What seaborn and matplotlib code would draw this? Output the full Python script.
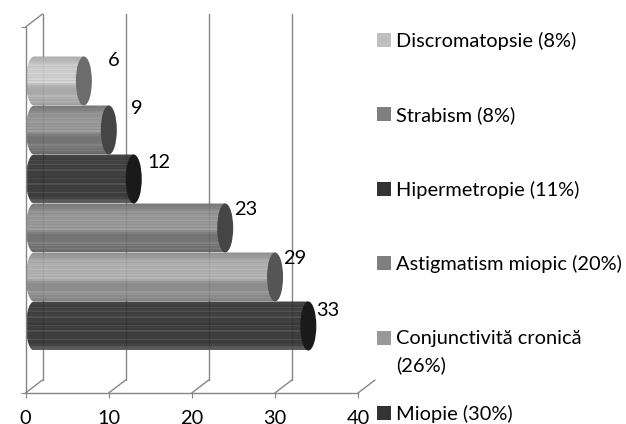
import matplotlib
matplotlib.use('Agg')
import matplotlib.pyplot as plt
from matplotlib.patches import Ellipse, Polygon, Rectangle
import numpy as np
import pandas as pd
import seaborn as sns

categories = ['Discromatopsie', 'Strabism', 'Hipermetropie', 'Astigmatism miopic',
              'Conjunctivită cronică', 'Miopie']
values     = [6, 9, 12, 23, 29, 33]
legend_txt = ['Discromatopsie (8%)', 'Strabism (8%)', 'Hipermetropie (11%)',
              'Astigmatism miopic (20%)', 'Conjunctivită cronică\n(26%)', 'Miopie (30%)']
body_col   = ['#b9b9b9', '#7f7f7f', '#2f2f2f', '#7f7f7f', '#999999', '#2f2f2f']
cap_col    = ['#6c6c6c', '#454545', '#1a1a1a', '#454545', '#555555', '#1a1a1a']
key_col    = ['#bfbfbf', '#7f7f7f', '#333333', '#7f7f7f', '#999999', '#333333']
x_ticks    = [0, 10, 20, 30, 40]

# brightness offsets down one cylinder, top to bottom, with the light streaks
shade = [-.06, -.05, -.03, -.02, .01, .02, .05, .03, .05, .08, .04, .06, .09, .05, .07,
         .04, .08, .03, .09, .02, .01, -.04, -.07, -.08, -.08, -.08, -.08, -.07, -.03, -.08,
         -.04, -.09, -.05, -.10, -.12]
shade_dark = [.04, .03, .02, .00, .06, .00, .02, .08, .00, .03, .00, .07, .01, .00, .02,
              .00, -.01, .05, .00, -.01, .00, .07, -.01, .00, -.01, .00, .00, .08, .00, -.01,
              .01, .03, .10, .12, .14]

GRID = '#868686'
W, H = 626, 424
X0, X1, YB, YT = 25.5, 358.0, 393.0, 27.0   # axes box in pixels
ROW = 49.0                                  # pixels per category
CY0 = 81.0                                  # pixel centre of first cylinder

sns.set_theme(style='white')
plt.rcParams['font.family'] = ['Lato', 'DejaVu Sans']

df = pd.DataFrame({'cat': categories, 'val': values})

fig = plt.figure(figsize=(W / 100, H / 100), dpi=100)
ax = fig.add_axes([X0 / W, 1 - YB / H, (X1 - X0) / W, (YB - YT) / H])
sns.barplot(data=df, y='cat', x='val', hue='cat', palette=body_col, orient='h',
            width=1.0, legend=False, dodge=False, ax=ax)

xlim = (0, 40)
ylim = ((YB - CY0) / ROW, (YT - CY0) / ROW)
px_x = (X1 - X0) / 40.0
dx_back, dy_back = 17 / px_x, 13 / ROW      # depth of the fake 3d box
dx_mid = 8.5 / px_x
cap_w = 16 / px_x

# back wall and floor
for t in x_ticks:
    if t < 40:
        ax.plot([t + dx_back, t + dx_back], [ylim[0] - dy_back, ylim[1] - dy_back],
                color=GRID, lw=1, zorder=1, clip_on=False)
    ax.plot([t, t + dx_back], [ylim[0], ylim[0] - dy_back], color=GRID, lw=1, zorder=1, clip_on=False)
ax.plot([0, dx_back], [ylim[1], ylim[1] - dy_back], color=GRID, lw=1, zorder=1, clip_on=False)

# cylinders drawn over the bars seaborn placed
bars = [c[0] for c in ax.containers]
for bar, body, cap in zip(bars, body_col, cap_col):
    val = bar.get_width()
    top, bot = bar.get_y(), bar.get_y() + bar.get_height()
    mid = (top + bot) / 2
    left, right = bar.get_x() + dx_mid, val + dx_mid
    th = np.linspace(np.pi / 2, 3 * np.pi / 2, 40)
    pts = np.column_stack([left + cap_w / 2 * np.cos(th), mid - (bot - top) / 2 * np.sin(th)])
    pts = np.vstack([pts, [[right, bot], [right, top]]])
    bar.set_visible(False)

    base = int(body[1:3], 16) / 255
    profile = np.array(shade) * 1.1 if base > 0.3 else np.array(shade_dark)
    rows = np.clip(base + profile, 0, 1)[:, None]
    im = ax.imshow(rows, cmap='gray', vmin=0, vmax=1, aspect='auto', interpolation='nearest',
                   extent=(left - cap_w / 2, right, bot, top), zorder=3, alpha=0.93)
    im.set_clip_path(Polygon(pts, closed=True, transform=ax.transData))
    ax.add_patch(Ellipse((right, mid), cap_w, bot - top, facecolor=cap, edgecolor='none', zorder=4))

# value labels
nudge_x = [38, 37, 34, 29, 28, 28]
nudge_y = [20, 21, 16, 18, 18, 15]
for v, cy, nx, ny in zip(values, range(6), nudge_x, nudge_y):
    ax.annotate(str(v), (v, cy), xytext=(nx, ny), textcoords='offset pixels', ha='center', va='center',
                fontsize=14.4, color='black', zorder=6, annotation_clip=False)

ax.set_xlim(*xlim)
ax.set_ylim(*ylim)
ax.set_xticks(x_ticks)
ax.set_yticks([ylim[0], ylim[1]])
ax.set_yticklabels([])
ax.set_xlabel('')
ax.set_ylabel('')
ax.tick_params(axis='both', length=3.6, width=0.8, color=GRID, bottom=True, left=True)
ax.tick_params(axis='x', labelsize=14.4, labelcolor='black', pad=8.5)
for name in ['top', 'right']:
    ax.spines[name].set_visible(False)
for name in ['left', 'bottom']:
    ax.spines[name].set_color(GRID)
    ax.spines[name].set_linewidth(1)
    ax.spines[name].set_zorder(5)

# legend keys and text sit irregularly in the original, so they are placed by hand
key_y = [40, 114, 189, 263, 338, 413]
for txt, col, ky in zip(legend_txt, key_col, key_y):
    fig.add_artist(Rectangle((377 / W, 1 - (ky + 7) / H), 14 / W, 14 / H, facecolor=col,
                             edgecolor='none', transform=fig.transFigure))
    fig.text(396 / W, 1 - (ky - 8) / H, txt, fontsize=14.4, color='black', va='top', ha='left', linespacing=1.6)

fig.savefig('out.png', dpi=100)
